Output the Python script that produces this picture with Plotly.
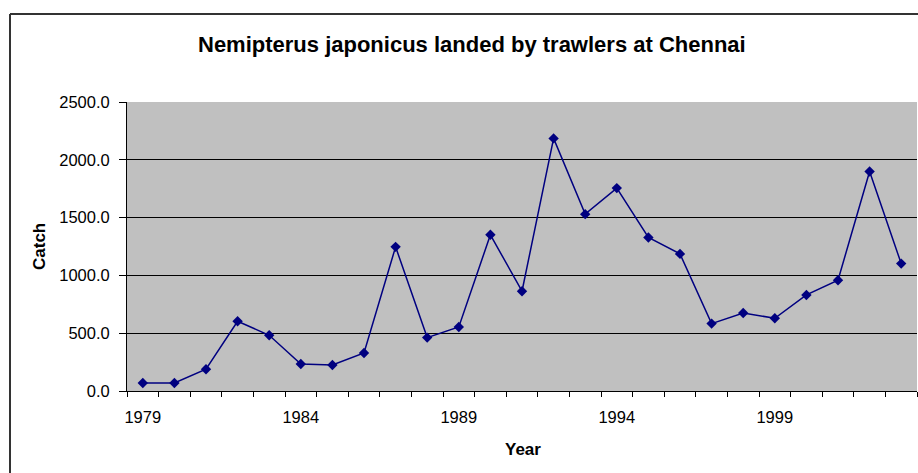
import plotly.graph_objects as go

years = list(range(1979, 2004))
catch = [69, 69, 188, 603, 482, 234, 225, 329, 1247, 462,
         554, 1351, 863, 2185, 1530, 1755, 1328, 1186, 583, 675,
         629, 831, 958, 1899, 1102]
x_tick_years = [1979, 1984, 1989, 1994, 1999]
y_tick_vals = [0, 500, 1000, 1500, 2000, 2500]

title_text = "Nemipterus japonicus landed by trawlers at Chennai"
x_title = "Year"
y_title = "Catch"

FONT = "Liberation Sans, Arial, sans-serif"

W, H = 918, 473
ML, MR, MT, MB = 127, 1, 102, 82
PW = W - ML - MR
PH = H - MT - MB


def px_x(p):
    return (p - ML) / PW


def px_y(p):
    return (H - MB - p) / PH


fig = go.Figure()
fig.add_trace(go.Scatter(
    x=years, y=catch, mode="lines+markers",
    line=dict(color="#000080", width=1.5),
    marker=dict(symbol="diamond", size=8, color="#000080"),
    showlegend=False,
))

fig.update_layout(
    width=W, height=H, autosize=False,
    margin=dict(l=ML, r=MR, t=MT, b=MB, pad=0),
    paper_bgcolor="white",
    plot_bgcolor="#C0C0C0",
    font=dict(family=FONT, size=16.5, color="black"),
    xaxis=dict(
        range=[years[0] - 0.5, years[-1] + 0.5],
        tickmode="array",
        tickvals=x_tick_years,
        ticktext=[str(y) for y in x_tick_years],
        ticks="outside", ticklen=11, tickcolor="rgba(0,0,0,0)",
        minor=dict(tickmode="linear", tick0=years[0] - 0.5, dtick=1,
                   ticks="outside", ticklen=5, tickcolor="black",
                   tickwidth=1, showgrid=False),
        showgrid=False, zeroline=False,
        showline=True, linecolor="black", linewidth=1,
        tickfont=dict(family=FONT, size=16.5, color="black"),
    ),
    yaxis=dict(
        range=[0, 2500],
        tickmode="array",
        tickvals=y_tick_vals,
        ticktext=["%.1f" % v for v in y_tick_vals],
        ticks="outside", ticklen=7, tickcolor="black",
        ticklabelstandoff=6,
        showgrid=True, gridcolor="black", gridwidth=1,
        zeroline=False,
        showline=True, linecolor="black", linewidth=1,
        tickfont=dict(family=FONT, size=16.5, color="black"),
    ),
    annotations=[
        dict(text="<b>" + title_text + "</b>", xref="paper", yref="paper",
             x=px_x(472), y=px_y(44), xanchor="center", yanchor="middle",
             showarrow=False, font=dict(family=FONT, size=22, color="black")),
        dict(text="<b>" + x_title + "</b>", xref="paper", yref="paper",
             x=px_x(523), y=px_y(449), xanchor="center", yanchor="middle",
             showarrow=False, font=dict(family=FONT, size=17, color="black")),
        dict(text="<b>" + y_title + "</b>", xref="paper", yref="paper",
             x=px_x(39), y=px_y(247), xanchor="center", yanchor="middle",
             textangle=-90,
             showarrow=False, font=dict(family=FONT, size=17, color="black")),
    ],
    shapes=[
        dict(type="line", xref="paper", yref="paper",
             x0=px_x(10), x1=px_x(10), y0=px_y(14), y1=px_y(H + 5),
             line=dict(color="#333333", width=2)),
        dict(type="line", xref="paper", yref="paper",
             x0=px_x(10), x1=px_x(W + 5), y0=px_y(14), y1=px_y(14),
             line=dict(color="#333333", width=2)),
    ],
)

fig.write_html(
    "out.html",
    config={"displayModeBar": False},
    post_script="document.body.style.margin='0';document.body.style.overflow='hidden';",
)
